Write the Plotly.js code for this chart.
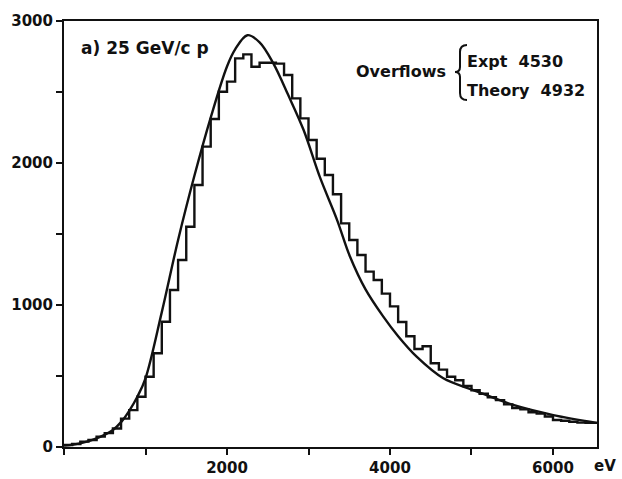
<!DOCTYPE html>
<html>
<head>
<meta charset="utf-8">
<script src="https://cdn.plot.ly/plotly-3.0.1.min.js"></script>
<style>html,body{margin:0;padding:0;background:#fff;}#chart{width:622px;height:479px;}</style>
</head>
<body>
<div id="chart"></div>
<script>
// Experimental histogram: bin lower edges (eV) and counts per 100 eV bin
const binStart = [0,100,200,300,400,500,600,700,800,900,
  1000,1100,1200,1300,1400,1500,1600,1700,1800,1900,
  2000,2100,2200,2300,2400,2500,2600,2700,2800,2900,
  3000,3100,3200,3300,3400,3500,3600,3700,3800,3900,
  4000,4100,4200,4300,4400,4500,4600,4700,4800,4900,
  5000,5100,5200,5300,5400,5500,5600,5700,5800,5900,
  6000,6100,6200,6300,6400];
const exptCounts = [14,21,38,49,73,98,130,200,260,354,
  495,660,882,1106,1317,1551,1845,2115,2310,2502,
  2573,2737,2765,2678,2706,2706,2700,2620,2455,2314,
  2162,2030,1915,1780,1575,1458,1352,1235,1176,1080,
  990,880,780,690,710,590,545,495,470,430,
  400,375,350,330,300,275,265,245,235,215,
  190,185,178,172,170];
const histEnd = 6540;

// Theory curve
const theoryE = [0,200,400,600,700,800,900,1000,1200,1400,1600,1800,2000,2100,2250,2400,2570,2750,2940,3140,3350,3510,3700,3918,4100,4327,4654,5022,5513,6004,6540];
const theoryY = [10,26,61,120,175,255,354,484,950,1458,1910,2320,2680,2800,2900,2850,2700,2480,2232,1900,1600,1340,1110,918,780,636,484,401,296,225,170];

const xTicks = [0,1000,2000,3000,4000,5000,6000];
const xTickText = ['','','2000','','4000','','6000'];
const yTicks = [0,500,1000,1500,2000,2500,3000];
const yTickText = ['0','','1000','','2000','','3000'];

const hx = binStart.concat([histEnd]);
const hy = exptCounts.concat([exptCounts[exptCounts.length-1]]);

const font = {family:'DejaVu Sans, sans-serif', size:15, color:'#111', weight:'bold'};
const annFont = {family:'DejaVu Sans, sans-serif', size:16, color:'#111', weight:'bold'};

const traces = [
  {x:hx, y:hy, type:'scatter', mode:'lines', line:{shape:'hv', color:'#111', width:2.4}, hoverinfo:'skip'},
  {x:theoryE, y:theoryY, type:'scatter', mode:'lines', line:{shape:'spline', smoothing:1, color:'#111', width:2.4}, hoverinfo:'skip'}
];

function px(p){return (p-64)/533;}
function py(p){return (447-p)/426;}
const brace = 'M '+px(467)+','+py(45)+' Q '+px(460)+','+py(45)+' '+px(460)+','+py(52)+
  ' L '+px(460)+','+py(67)+' Q '+px(460)+','+py(72)+' '+px(455)+','+py(72)+
  ' Q '+px(460)+','+py(72)+' '+px(460)+','+py(77)+
  ' L '+px(460)+','+py(93)+' Q '+px(460)+','+py(100)+' '+px(467)+','+py(100);

const layout = {
  width:622, height:479,
  margin:{l:64, r:25, t:21, b:32},
  paper_bgcolor:'#fff', plot_bgcolor:'#fff',
  showlegend:false,
  font:font,
  xaxis:{range:[0,6540], showgrid:false, zeroline:false, showline:true, mirror:true, linecolor:'#111', linewidth:2,
    ticks:'outside', ticklen:6, tickwidth:2, tickcolor:'#111', tickmode:'array', tickvals:xTicks, ticktext:xTickText,
    tickfont:font},
  yaxis:{range:[0,3000], showgrid:false, zeroline:false, showline:true, mirror:true, linecolor:'#111', linewidth:2,
    ticks:'outside', ticklen:6, tickwidth:2, tickcolor:'#111', tickmode:'array', tickvals:yTicks, ticktext:yTickText,
    tickfont:font},
  shapes:[{type:'path', xref:'paper', yref:'paper', path:brace, line:{color:'#111', width:2}}],
  annotations:[
    {text:'a) 25 GeV/c p', xref:'paper', yref:'paper', x:px(79), y:py(48), xanchor:'left', yanchor:'middle', showarrow:false, font:{family:'DejaVu Sans, sans-serif', size:17, color:'#111', weight:'bold'}},
    {text:'Overflows', xref:'paper', yref:'paper', x:px(448), y:py(72), xanchor:'right', yanchor:'middle', showarrow:false, font:annFont},
    {text:'Expt  4530', xref:'paper', yref:'paper', x:px(465), y:py(62), xanchor:'left', yanchor:'middle', showarrow:false, font:annFont},
    {text:'Theory  4932', xref:'paper', yref:'paper', x:px(465), y:py(90), xanchor:'left', yanchor:'middle', showarrow:false, font:annFont},
    {text:'eV', xref:'paper', yref:'paper', x:px(605), y:py(466), xanchor:'center', yanchor:'middle', showarrow:false, font:font}
  ]
};

Plotly.newPlot('chart', traces, layout, {staticPlot:true, displayModeBar:false});
</script>
</body>
</html>
